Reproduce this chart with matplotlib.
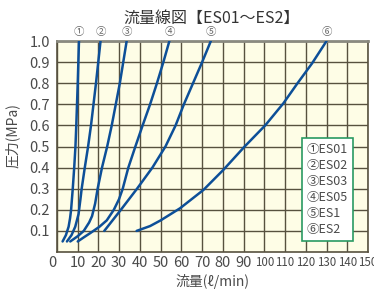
import matplotlib
matplotlib.use('Agg')
import matplotlib.pyplot as plt

plt.rcParams['font.family'] = ['Noto Sans CJK JP', 'DejaVu Sans']

# values
models = ['ES01', 'ES02', 'ES03', 'ES05', 'ES1', 'ES2']
marks = ['①', '②', '③', '④', '⑤', '⑥']

es01_flow = [2.7, 4.3, 5.6, 6.3, 6.8, 7.6, 8.3, 8.9, 9.3, 10.0, 10.6]
es01_pres = [0.05, 0.08, 0.12, 0.16, 0.2, 0.3, 0.4, 0.5, 0.6, 0.8, 1.0]

es02_flow = [4.8, 7.0, 8.8, 10.4, 11.3, 11.9, 13.4, 15.0, 16.4, 18.8, 21.0]
es02_pres = [0.05, 0.08, 0.12, 0.18, 0.25, 0.3, 0.4, 0.5, 0.6, 0.8, 1.0]

es03_flow = [6.4, 10.0, 12.9, 15.5, 16.9, 18.4, 19.6, 21.7, 24.2, 26.4, 30.3, 33.6]
es03_pres = [0.05, 0.075, 0.1, 0.14, 0.17, 0.23, 0.3, 0.4, 0.5, 0.6, 0.8, 1.0]

es05_flow = [10.0, 13.0, 16.1, 20.5, 24.0, 27.4, 29.9, 31.7, 34.4, 37.8, 41.3, 44.9, 48.2, 51.3, 54.2]
es05_pres = [0.05, 0.07, 0.09, 0.12, 0.15, 0.2, 0.25, 0.3, 0.4, 0.5, 0.6, 0.7, 0.8, 0.9, 1.0]

es1_flow = [22.8, 26.8, 30.8, 38.6, 46.0, 52.3, 57.2, 61.2, 65.6, 70.0, 74.2]
es1_pres = [0.1, 0.15, 0.2, 0.3, 0.4, 0.5, 0.6, 0.7, 0.8, 0.9, 1.0]

es2_flow = [38.4, 44.9, 50.0, 59.3, 70.6, 80.2, 90.5, 100.4, 109.2, 116.0, 123.0, 130.0]
es2_pres = [0.1, 0.123, 0.15, 0.207, 0.294, 0.389, 0.5, 0.6, 0.705, 0.8, 0.894, 1.0]

flows = [es01_flow, es02_flow, es03_flow, es05_flow, es1_flow, es2_flow]
pressures = [es01_pres, es02_pres, es03_pres, es05_pres, es1_pres, es2_pres]

x_ticks = list(range(0, 151, 10))
y_ticks = [0.1, 0.2, 0.3, 0.4, 0.5, 0.6, 0.7, 0.8, 0.9, 1.0]

line_color = '#0d4f98'
grid_color = '#57513f'
text_color = '#4a4a4a'

fig = plt.figure(figsize=(3.74, 2.91), dpi=100)
ax = fig.add_axes([0.1524, 0.134, 0.8316, 0.725])
ax.set_facecolor('#fefde6')

for f, p in zip(flows, pressures):
    ax.plot(f, p, color=line_color, lw=1.8, solid_capstyle='round',
            solid_joinstyle='round', zorder=3)

# circled numbers above the top of each curve
for m, f in zip(marks, flows):
    ax.text(f[-1], 1.045, m, ha='center', va='center', fontsize=7.5,
            color='#666666', clip_on=False)

ax.set_xlim(0, 150)
ax.set_ylim(0, 1.0)
ax.set_xticks(x_ticks)
ax.set_yticks(y_ticks)
ax.set_yticklabels([f'{v:.1f}' for v in y_ticks])
ax.tick_params(length=0, colors=text_color, labelsize=10.5)
ax.tick_params(axis='x', pad=3)
ax.tick_params(axis='y', pad=5)
for lab, v in zip(ax.get_xticklabels(), x_ticks):
    if v >= 100:
        lab.set_fontsize(8.3)
# shift the "0" label a bit to the left like the original
ax.get_xticklabels()[0].set_horizontalalignment('right')

ax.grid(True, color=grid_color, lw=1.0)
ax.set_axisbelow(True)
for side in ['left', 'bottom', 'right']:
    ax.spines[side].set_color(grid_color)
    ax.spines[side].set_linewidth(1.2)
ax.spines['top'].set_color('#8a8a80')
ax.spines['top'].set_linewidth(2)

fig.text(0.567, 0.938, '流量線図【ES01～ES2】', ha='center', va='center',
         fontsize=11.5, color='#333333')
ax.set_xlabel('流量(ℓ/min)', fontsize=10, color=text_color, labelpad=3)
ax.set_ylabel('圧力(MPa)', fontsize=10, color=text_color)
ax.yaxis.set_label_coords(-0.12, 0.55)

# legend box
legend_text = '\n'.join(m + n for m, n in zip(marks, models))
ax.text(0.803, 0.295, legend_text, transform=ax.transAxes, ha='left', va='center',
        fontsize=9, color=text_color, linespacing=1.3, zorder=5,
        bbox=dict(boxstyle='square,pad=0.4', fc='white', ec='#2a9a62', lw=1.2))

fig.savefig('out.png', dpi=100)
